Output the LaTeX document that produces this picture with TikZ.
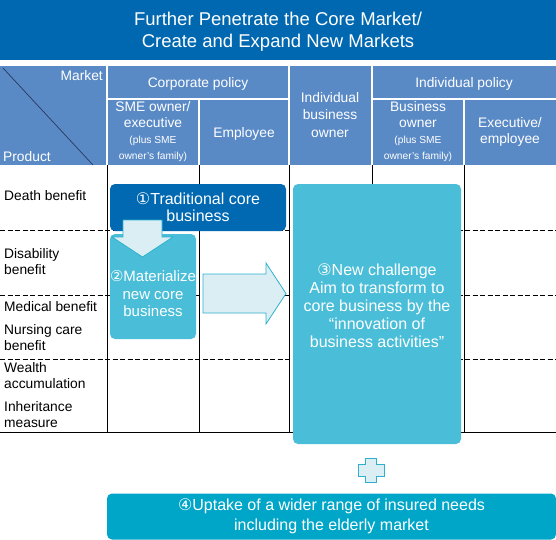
\documentclass[tikz,border=0pt]{standalone}
\usepackage{fontspec}
\setmainfont{Liberation Sans}
\newfontfamily\circfont{DejaVu Sans}
\usepackage{tikz}
\usetikzlibrary{positioning}

\definecolor{titleblue}{HTML}{0067B1}
\definecolor{headblue}{HTML}{5A8AC6}
\definecolor{diagcolor}{HTML}{26395E}
\definecolor{coreblue}{HTML}{0069B2}
\definecolor{newcyan}{HTML}{4ABED8}
\definecolor{widecyan}{HTML}{00A6C8}
\definecolor{arrowfill}{HTML}{DAEEF3}
\definecolor{arrowline}{HTML}{2EB0CE}

\newcommand{\cnum}[1]{{\circfont #1}}

\begin{document}
\begin{tikzpicture}[x=1pt, y=-1pt,
    headline/.style={white, line width=1.3pt},
    diagline/.style={diagcolor, line width=0.7pt},
    gridline/.style={black, line width=0.8pt},
    rowline/.style={gridline, dash pattern=on 5pt off 2.5pt},
    titletext/.style={text=white, align=center, inner sep=0pt, font=\fontsize{18.5}{22.5}\selectfont},
    headtext/.style={text=white, align=center, inner sep=0pt, font=\fontsize{13.8}{16}\selectfont},
    famtext/.style={headtext, font=\fontsize{10.2}{16}\selectfont},
    rowtext/.style={anchor=west, align=left, inner sep=0pt, font=\fontsize{13.8}{15.5}\selectfont},
    boxtext/.style={text=white, align=center, inner sep=0pt, font=\fontsize{16}{18}\selectfont},
    bizbox/.style={rounded corners=5pt, inner sep=0pt},
    blockarrow/.style={fill=arrowfill, draw=arrowline, line width=0.8pt}
  ]
    \useasboundingbox (0,0) rectangle (556,539);

    % Draw title band
    \fill[titleblue] (0,0) rectangle (556,60);
    \node[titletext] (title) at (278,31.5) {Further Penetrate the Core Market/\\Create and Expand New Markets};

    % Draw header cells
    \fill[headblue] (0,66) rectangle (556,165);
    \foreach \x in {107,289,372} \draw[headline] (\x,66) -- (\x,165);
    \foreach \x in {199,464} \draw[headline] (\x,99) -- (\x,165);
    \draw[headline] (107,99) -- (289,99);
    \draw[headline] (372,99) -- (556,99);
    \draw[diagline] (3,68) -- (93,165);

    % Header labels
    \node[headtext, anchor=base east] (market) at (103,80) {Market};
    \node[headtext, anchor=base west] (product) at (3,161) {Product};
    \node[headtext, anchor=base] (corp) at (198,87) {Corporate policy};
    \node[headtext] (sme) at (153,115) {SME owner/\\executive};
    \node[famtext, below=7.7pt of sme] (smefam) {(plus SME\\owner’s family)};
    \node[headtext, anchor=base] (employee) at (244,137) {Employee};
    \node[headtext, font=\fontsize{13.8}{17.5}\selectfont] (indbiz) at (330,114.6) {Individual\\business\\owner};
    \node[headtext, anchor=base] (indpol) at (464,87) {Individual policy};
    \node[headtext, font=\fontsize{13.8}{15.5}\selectfont] (bizown) at (418,114.8) {Business\\owner};
    \node[famtext, below=8pt of bizown] (bizfam) {(plus SME\\owner’s family)};
    \node[headtext] (execemp) at (510,131.5) {Executive/\\employee};

    % Draw grid lines
    \foreach \x in {107,199,289,372,464} \draw[gridline] (\x,165) -- (\x,432);
    \foreach \y in {230,295,359} \draw[rowline] (0,\y) -- (556,\y);
    \draw[gridline] (0,432) -- (556,432);

    % Product labels
    \foreach \n/\y/\t in {death/196/{Death benefit}, disab/261.5/{Disability\\benefit}, medical/307/{Medical benefit},
                          nursing/337.7/{Nursing care\\benefit}, wealth/375.5/{Wealth\\accumulation}, inher/414.5/{Inheritance\\measure}} {
      \node[rowtext] (\n) at (4,\y) {\t};
    }

    % Business boxes
    \node[bizbox, fill=coreblue, minimum width=176pt, minimum height=47pt, boxtext, font=\fontsize{16}{17}\selectfont] (core) at (198,207.5) {\cnum{①}Traditional core\\business};
    \node[bizbox, fill=newcyan, minimum width=86pt, minimum height=105pt] (newcore) at (153,286.5) {};
    \node[boxtext, font=\fontsize{15}{17.5}\selectfont] (newcoretext) at (153,294) {\cnum{②}Materialize\\new core\\business};
    \node[bizbox, fill=newcyan, minimum width=168pt, minimum height=260pt] (challenge) at (377,314) {};
    \node[boxtext] (challengetext) at (377,306) {\cnum{③}New challenge\\Aim to transform to\\core business by the\\“innovation of\\business activities”};

    % Draw block arrows
    \draw[blockarrow] (123,220) -- (162,220) -- (162,237) -- (173,237) -- (142.5,257) -- (112,237) -- (123,237) -- cycle;
    \draw[blockarrow] (203,274) -- (266,274) -- (266,263) -- (286,293.5) -- (266,324) -- (266,313) -- (203,313) -- cycle;

    % Draw plus sign
    \draw[blockarrow] (365.5,458) -- (376.5,458) -- (376.5,464.5) -- (384,464.5) -- (384,476) -- (376.5,476) -- (376.5,482)
      -- (365.5,482) -- (365.5,476) -- (358,476) -- (358,464.5) -- (365.5,464.5) -- cycle;

    \node[bizbox, fill=widecyan, minimum width=449pt, minimum height=46pt, boxtext, font=\fontsize{16}{20}\selectfont] (elderly) at (331.5,516.5)
      {\cnum{④}Uptake of a wider range of insured needs\\including the elderly market};

  \end{tikzpicture}
\end{document}
